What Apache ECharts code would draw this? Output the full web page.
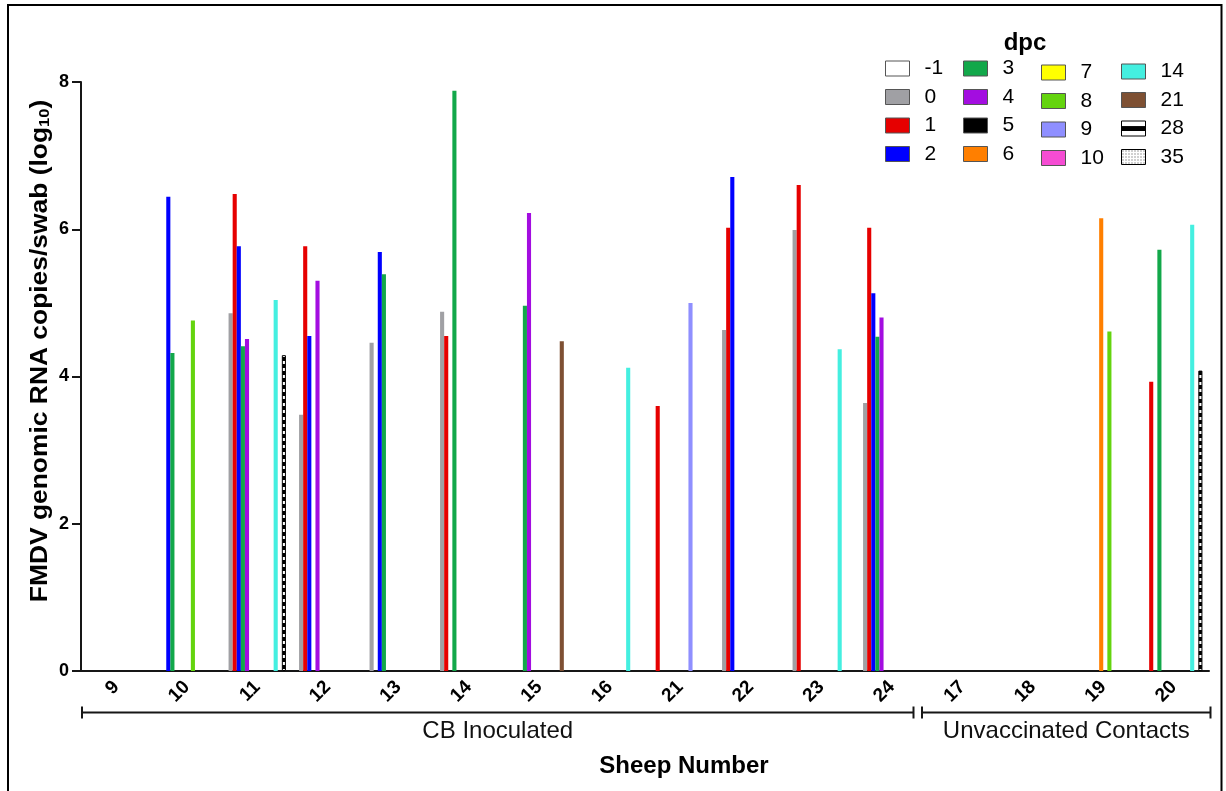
<!DOCTYPE html>
<html>
<head>
<meta charset="utf-8">
<style>
  html, body { margin: 0; padding: 0; background: #ffffff; }
  #chart { width: 1226px; height: 791px; }
</style>
<script src="https://cdn.jsdelivr.net/npm/echarts@6/dist/echarts.min.js"></script>
</head>
<body>
<div id="chart"></div>
<script>
// Sheep numbers along the x axis (inoculated group first, then contacts)
const sheepNumbers = ['9', '10', '11', '12', '13', '14', '15', '16', '21', '22', '23', '24', '17', '18', '19', '20'];

// Days post challenge (one series per day)
const dpcLevels = ['-1', '0', '1', '2', '3', '4', '5', '6', '7', '8', '9', '10', '14', '21', '28', '35'];

// log10 FMDV genomic RNA copies per swab, per sheep (null = not detected)
const dpcNeg1 = [null, null, null, null, null, null, null, null, null, null, null, null, null, null, null, null];
const dpc0    = [null, null, 4.86, 3.48, 4.46, 4.88, null, null, null, 4.63, 5.99, 3.64, null, null, null, null];
const dpc1    = [null, null, 6.48, 5.77, null, 4.55, null, null, 3.60, 6.02, 6.60, 6.02, null, null, null, 3.93];
const dpc2    = [null, 6.44, 5.77, 4.55, 5.69, null, null, null, null, 6.71, null, 5.13, null, null, null, null];
const dpc3    = [null, 4.32, 4.41, null, 5.39, 7.88, 4.96, null, null, null, null, 4.54, null, null, null, 5.72];
const dpc4    = [null, null, 4.51, 5.30, null, null, 6.22, null, null, null, null, 4.80, null, null, null, null];
const dpc5    = [null, null, null, null, null, null, null, null, null, null, null, null, null, null, null, null];
const dpc6    = [null, null, null, null, null, null, null, null, null, null, null, null, null, null, 6.15, null];
const dpc7    = [null, null, null, null, null, null, null, null, null, null, null, null, null, null, null, null];
const dpc8    = [null, 4.76, null, null, null, null, null, null, null, null, null, null, null, null, 4.61, null];
const dpc9    = [null, null, null, null, null, null, null, null, 5.00, null, null, null, null, null, null, null];
const dpc10   = [null, null, null, null, null, null, null, null, null, null, null, null, null, null, null, null];
const dpc14   = [null, null, 5.04, null, null, null, null, 4.12, null, null, 4.37, null, null, null, null, 6.06];
const dpc21   = [null, null, null, null, null, null, 4.48, null, null, null, null, null, null, null, null, null];
const dpc28   = [null, null, 4.29, null, null, null, null, null, null, null, null, null, null, null, null, 4.08];
const dpc35   = [null, null, null, null, null, null, null, null, null, null, null, null, null, null, null, null];

const dpcValues = [dpcNeg1, dpc0, dpc1, dpc2, dpc3, dpc4, dpc5, dpc6, dpc7, dpc8, dpc9, dpc10, dpc14, dpc21, dpc28, dpc35];

// Y axis ticks
const yTicks = [0, 2, 4, 6, 8];

// Sheep groups shown under the axis
const groupNames = ['CB Inoculated', 'Unvaccinated Contacts'];

// ---- styling ----
const FONT = "'Liberation Sans', Arial, Helvetica, sans-serif";
const dpcColors = ['#ffffff', '#a0a0a4', '#e60000', '#0000ff', '#12a84a', '#a30de0', '#000000', '#ff7f00',
                   '#ffff00', '#64d40e', '#8f8fff', '#f54cd3', '#44efe0', '#7e5033', null, null];

function makePattern(w, h, draw) {
  const c = document.createElement('canvas');
  c.width = w; c.height = h;
  const ctx = c.getContext('2d');
  draw(ctx);
  return { image: c, repeat: 'repeat' };
}
// horizontal stripes used for the 28 dpc bars
const stripeBar = makePattern(4, 7, ctx => {
  ctx.fillStyle = '#000'; ctx.fillRect(0, 0, 4, 7);
  ctx.fillStyle = '#fff'; ctx.fillRect(0, 4, 4, 3);
});
// single thick band for the 28 dpc legend key
const stripeKey = makePattern(24, 15, ctx => {
  ctx.fillStyle = '#fff'; ctx.fillRect(0, 0, 24, 15);
  ctx.fillStyle = '#000'; ctx.fillRect(0, 5, 24, 5);
});
// fine dots for 35 dpc
const dotFill = makePattern(3, 3, ctx => {
  ctx.fillStyle = '#fff'; ctx.fillRect(0, 0, 3, 3);
  ctx.fillStyle = '#444'; ctx.fillRect(1, 1, 1, 1);
});
dpcColors[14] = stripeBar;
dpcColors[15] = dotFill;

const GRID = { left: 81, right: 17, top: 82, bottom: 120 };
const AXIS_COLOR = '#161616';

const series = dpcLevels.map((name, i) => {
  const s = {
    name: name,
    type: 'bar',
    data: dpcValues[i],
    barGap: '0%',
    barCategoryGap: '7%',
    itemStyle: { color: dpcColors[i] },
    emphasis: { disabled: true }
  };
  if (name === '28') {
    s.itemStyle.borderColor = '#000';
    s.itemStyle.borderWidth = 1;
  }
  return s;
});

function legendItem(name) {
  if (name === '28') return { name, itemStyle: { color: stripeKey, borderColor: '#000', borderWidth: 1 } };
  if (name === '35') return { name, itemStyle: { color: dotFill, borderColor: '#000', borderWidth: 1 } };
  return { name };
}
const legendColumns = [
  { names: dpcLevels.slice(0, 4), left: 885, top: 58 },
  { names: dpcLevels.slice(4, 8), left: 963, top: 58 },
  { names: dpcLevels.slice(8, 12), left: 1041, top: 62 },
  { names: dpcLevels.slice(12, 16), left: 1121, top: 61 }
];
const legends = legendColumns.map(col => ({
  data: col.names.map(legendItem),
  orient: 'vertical',
  left: col.left,
  top: col.top,
  padding: 0,
  itemWidth: 24,
  itemHeight: 15,
  itemGap: 7.5,
  icon: 'rect',
  selectedMode: false,
  itemStyle: { borderColor: '#555', borderWidth: 1 },
  textStyle: { fontFamily: FONT, fontSize: 21, color: '#000', lineHeight: 15, padding: [0, 0, 0, 10] }
}));

// group brackets beneath the category labels
const bracketY = 712.5;
const capH = 6;
const brackets = [
  { x1: 82, x2: 913.5 },
  { x1: 922, x2: 1210.5 }
];
const graphics = [];
brackets.forEach((b, i) => {
  const st = { stroke: AXIS_COLOR, lineWidth: 2 };
  graphics.push({ type: 'line', shape: { x1: b.x1, y1: bracketY, x2: b.x2, y2: bracketY }, style: st, silent: true });
  graphics.push({ type: 'line', shape: { x1: b.x1, y1: bracketY - capH, x2: b.x1, y2: bracketY + capH }, style: st, silent: true });
  graphics.push({ type: 'line', shape: { x1: b.x2, y1: bracketY - capH, x2: b.x2, y2: bracketY + capH }, style: st, silent: true });
  graphics.push({
    type: 'text', x: (b.x1 + b.x2) / 2, y: 731, silent: true,
    style: { text: groupNames[i], fontFamily: FONT, fontSize: 24, fill: '#111', align: 'center', verticalAlign: 'middle' }
  });
});
// x axis title
graphics.push({
  type: 'text', x: 684, y: 766, silent: true,
  style: { text: 'Sheep Number', fontFamily: FONT, fontSize: 24, fontWeight: 'bold', fill: '#000', align: 'center', verticalAlign: 'middle' }
});
// y axis title with subscript
graphics.push({
  type: 'text', x: 40, y: 351, rotation: Math.PI / 2, scaleX: 1.1, silent: true,
  style: {
    text: '{m|FMDV genomic RNA copies/swab (log}{s|10}{m|)}',
    align: 'center', verticalAlign: 'middle',
    rich: {
      m: { fontFamily: FONT, fontSize: 24, fontWeight: 'bold', fill: '#000', lineHeight: 24, verticalAlign: 'top' },
      s: { fontFamily: FONT, fontSize: 15, fontWeight: 'bold', fill: '#000', lineHeight: 15, verticalAlign: 'bottom', padding: [13, 0, 0, 0] }
    }
  }
});
// legend heading
graphics.push({
  type: 'text', x: 1025, y: 43, silent: true,
  style: { text: 'dpc', fontFamily: FONT, fontSize: 24, fontWeight: 'bold', fill: '#000', align: 'center', verticalAlign: 'middle' }
});
// outer frame
graphics.push({
  type: 'rect', silent: true, shape: { x: 8, y: 5, width: 1213.5, height: 800 },
  style: { fill: 'none', stroke: '#000', lineWidth: 2 }
});

const chart = echarts.init(document.getElementById('chart'), null, { renderer: 'canvas' });
chart.setOption({
  animation: false,
  backgroundColor: '#ffffff',
  grid: GRID,
  legend: legends,
  xAxis: {
    type: 'category',
    data: sheepNumbers,
    axisLine: { lineStyle: { color: AXIS_COLOR, width: 2 } },
    axisTick: { alignWithLabel: true, length: 6, lineStyle: { color: AXIS_COLOR, width: 2 } },
    axisLabel: { rotate: 45, margin: 13, fontFamily: FONT, fontSize: 19, fontWeight: 'bold', color: '#000' },
    splitLine: { show: false }
  },
  yAxis: {
    type: 'value',
    min: yTicks[0],
    max: yTicks[yTicks.length - 1],
    interval: yTicks[1] - yTicks[0],
    axisLine: { show: true, lineStyle: { color: AXIS_COLOR, width: 2 } },
    axisTick: { show: true, length: 9, lineStyle: { color: AXIS_COLOR, width: 2 } },
    axisLabel: { margin: 12, fontFamily: FONT, fontSize: 18, fontWeight: 'bold', color: '#000' },
    splitLine: { show: false }
  },
  series: series,
  graphic: graphics
});
</script>
</body>
</html>
